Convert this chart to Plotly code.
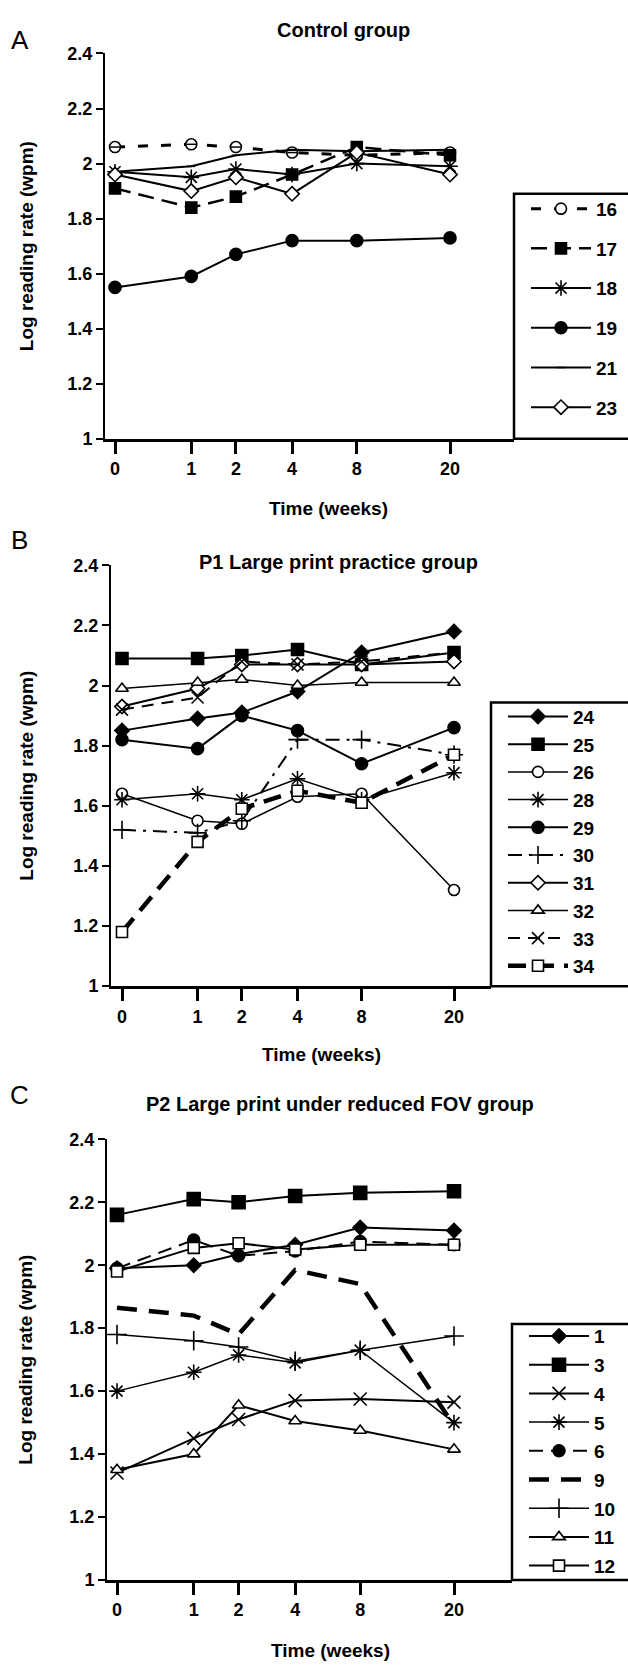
import plotly.graph_objects as go
import math

W, H = 628, 1671
FONT = "Liberation Sans, Arial, sans-serif"

weeks = [0, 1, 2, 4, 8, 20]
week_labels = ["0", "1", "2", "4", "8", "20"]
y_ticks = [1, 1.2, 1.4, 1.6, 1.8, 2, 2.2, 2.4]
y_tick_labels = ["1", "1.2", "1.4", "1.6", "1.8", "2", "2.2", "2.4"]

# Panel A: Control group
a16 = [2.06, 2.07, 2.06, 2.04, 2.03, 2.04]
a17 = [1.91, 1.84, 1.88, 1.96, 2.06, 2.03]
a18 = [1.97, 1.95, 1.98, 1.96, 2.00, 1.99]
a19 = [1.55, 1.59, 1.67, 1.72, 1.72, 1.73]
a21 = [1.97, 1.99, 2.03, 2.05, 2.045, 2.05]
a23 = [1.96, 1.90, 1.95, 1.89, 2.04, 1.96]

# Panel B: P1 Large print practice group
b24 = [1.85, 1.89, 1.91, 1.98, 2.11, 2.18]
b25 = [2.09, 2.09, 2.10, 2.12, 2.07, 2.11]
b26 = [1.64, 1.55, 1.54, 1.63, 1.64, 1.32]
b28 = [1.62, 1.64, 1.62, 1.69, 1.62, 1.71]
b29 = [1.82, 1.79, 1.90, 1.85, 1.74, 1.86]
b30 = [1.52, 1.51, 1.55, 1.82, 1.82, 1.77]
b31 = [1.93, 1.99, 2.07, 2.07, 2.07, 2.08]
b32 = [1.99, 2.01, 2.02, 2.00, 2.01, 2.01]
b33 = [1.92, 1.96, 2.08, 2.07, 2.08, 2.11]
b34 = [1.18, 1.48, 1.59, 1.65, 1.61, 1.77]

# Panel C: P2 Large print under reduced FOV group
c1 = [1.99, 2.00, 2.035, 2.065, 2.12, 2.11]
c3 = [2.16, 2.21, 2.20, 2.22, 2.23, 2.235]
c4 = [1.34, 1.45, 1.51, 1.57, 1.575, 1.565]
c5 = [1.60, 1.66, 1.715, 1.69, 1.73, 1.50]
c6 = [1.99, 2.08, 2.03, 2.045, 2.075, 2.065]
c9 = [1.865, 1.84, 1.78, 1.985, 1.94, 1.49]
c10 = [1.78, 1.76, 1.74, 1.695, 1.73, 1.775]
c11 = [1.35, 1.40, 1.555, 1.505, 1.475, 1.415]
c12 = [1.98, 2.055, 2.07, 2.05, 2.065, 2.065]

xvals = [w + 1 for w in weeks]  # plotted on a log(week+1) axis

fig = go.Figure()

def sty(symbol, fill="black", dash="solid", width=2, size=10):
    return dict(symbol=symbol, fill=fill, dash=dash, width=width, size=size)

series = [
    (1, "16", a16, sty("circle", "white", "10px,13px", 3, 11)),
    (1, "17", a17, sty("square", "black", "16px,8px", 2.5, 11)),
    (1, "18", a18, sty("asterisk-open", "black", "solid", 2, 13)),
    (1, "19", a19, sty("circle", "black", "solid", 2, 12)),
    (1, "21", a21, sty("line-ew-open", "black", "solid", 2, 6)),
    (1, "23", a23, sty("diamond", "white", "solid", 2, 11)),
    (2, "24", b24, sty("diamond", "black", "solid", 2, 11)),
    (2, "25", b25, sty("square", "black", "solid", 2, 12)),
    (2, "26", b26, sty("circle", "white", "solid", 1.5, 11)),
    (2, "28", b28, sty("asterisk-open", "black", "solid", 1.5, 13)),
    (2, "29", b29, sty("circle", "black", "solid", 2, 12)),
    (2, "30", b30, sty("cross-thin-open", "black", "14px,7px,3px,7px", 2, 13)),
    (2, "31", b31, sty("diamond", "white", "solid", 2, 11)),
    (2, "32", b32, sty("triangle-up", "white", "solid", 1.5, 11)),
    (2, "33", b33, sty("x-thin-open", "black", "12px,8px", 2, 12)),
    (2, "34", b34, sty("square", "white", "18px,10px", 4.5, 11)),
    (3, "1", c1, sty("diamond", "black", "solid", 2, 11)),
    (3, "3", c3, sty("square", "black", "solid", 2, 13)),
    (3, "4", c4, sty("x-thin-open", "black", "solid", 2, 13)),
    (3, "5", c5, sty("asterisk-open", "black", "solid", 1.5, 13)),
    (3, "6", c6, sty("circle", "black", "14px,8px", 2, 12)),
    (3, "9", c9, sty("none", "black", "20px,12px", 4.5, 1)),
    (3, "10", c10, sty("cross-thin-open", "black", "solid", 1.5, 14)),
    (3, "11", c11, sty("triangle-up", "white", "solid", 2, 11)),
    (3, "12", c12, sty("square", "white", "solid", 2, 11)),
]

for panel, name, vals, s in series:
    sfx = "" if panel == 1 else str(panel)
    mode = "lines" if s["symbol"] == "none" else "lines+markers"
    marker = dict(symbol=s["symbol"] if s["symbol"] != "none" else "circle",
                  size=s["size"], color=s["fill"],
                  line=dict(color="black", width=1.6))
    fig.add_trace(go.Scatter(
        x=xvals, y=vals, name=name, mode=mode,
        line=dict(color="black", width=s["width"], dash=s["dash"]),
        marker=marker, xaxis="x" + sfx, yaxis="y" + sfx,
        legend="legend" + sfx, legendgroup="g" + str(panel) + name,
        cliponaxis=False,
    ))
    if name == "16":
        fig.add_trace(go.Scatter(
            x=xvals, y=vals, mode="markers", showlegend=False,
            marker=dict(symbol="line-ew-open", size=7, color="black",
                        line=dict(color="black", width=1.5)),
            xaxis="x" + sfx, yaxis="y" + sfx, cliponaxis=False, hoverinfo="skip"))

# panel geometry in pixels: axis left/right, week-0 and week-20 pixel, top/bottom, legend box
geo = {
    1: dict(left=105, right=514, x0=115, x20=450, top=44, bottom=434, lg_top=186, lg_y=182, lg_gap=12),
    2: dict(left=111, right=491, x0=122, x20=454, top=562, bottom=988, lg_top=701, lg_y=696, lg_gap=0),
    3: dict(left=107, right=512, x0=117, x20=454, top=1143, bottom=1589, lg_top=1330, lg_y=1323, lg_gap=1),
}
layout = {}
shapes = []
for p, g in geo.items():
    sfx = "" if p == 1 else str(p)
    ppd = (g["x20"] - g["x0"]) / math.log10(21)
    xr = [(g["left"] - g["x0"]) / ppd, (g["right"] - g["x0"]) / ppd]
    layout["xaxis" + sfx] = dict(
        type="log", range=xr, domain=[g["left"] / W, g["right"] / W],
        anchor="y" + sfx, tickvals=xvals, ticktext=week_labels,
        showline=True, linecolor="black", linewidth=2.5, ticks="outside",
        ticklen=12, tickwidth=2.5, tickcolor="black", showgrid=False, zeroline=False,
        tickfont=dict(family=FONT, size=18, color="black", weight="bold"),
    )
    layout["yaxis" + sfx] = dict(
        range=[1, 2.4], domain=[1 - g["bottom"] / H, 1 - g["top"] / H],
        anchor="x" + sfx, tickvals=y_ticks, ticktext=y_tick_labels,
        showline=True, linecolor="black", linewidth=2, ticks="outside",
        ticklen=7, tickwidth=2, tickcolor="black", showgrid=False, zeroline=False,
        tickfont=dict(family=FONT, size=18, color="black", weight="bold"),
    )
    layout["legend" + sfx] = dict(
        x=(g["right"] + 12) / W, xanchor="left", y=1 - g["lg_y"] / H, yanchor="top",
        bgcolor="rgba(0,0,0,0)", borderwidth=0, itemwidth=60, tracegroupgap=g["lg_gap"],
        font=dict(family=FONT, size=19, color="black", weight="bold"),
        itemclick=False, itemdoubleclick=False,
    )
    shapes.append(dict(type="rect", xref="paper", yref="paper",
                       x0=g["right"] / W, x1=1.05, y0=1 - g["bottom"] / H, y1=1 - g["lg_top"] / H,
                       line=dict(color="black", width=2.5), fillcolor="rgba(0,0,0,0)"))

def ann(text, x, y, size, bold=True, angle=0):
    return dict(text=text, x=x / W, y=1 - y / H, xref="paper", yref="paper",
                showarrow=False, xanchor="center", yanchor="middle", textangle=angle,
                font=dict(family=FONT, size=size, color="black", weight="bold" if bold else "normal"))

annotations = [
    ann("A", 20, 30, 26, bold=False),
    ann("B", 19, 536, 26, bold=False),
    ann("C", 19, 1098, 26, bold=False),
    ann("Control group", 343, 20, 20),
    ann("P1 Large print practice group", 338, 559, 20),
    ann("P2 Large print under reduced FOV group", 340, 1107, 20),
    ann("Time (weeks)", 328, 505, 19),
    ann("Time (weeks)", 321, 1057, 19),
    ann("Time (weeks)", 330, 1660, 19),
    ann("Log reading rate (wpm)", 26, (44 + 434) / 2, 19, angle=-90),
    ann("Log reading rate (wpm)", 27, (562 + 988) / 2, 19, angle=-90),
    ann("Log reading rate (wpm)", 26, (1143 + 1589) / 2, 19, angle=-90),
]

fig.update_layout(
    width=W, height=H, margin=dict(l=0, r=0, t=0, b=0),
    paper_bgcolor="white", plot_bgcolor="white",
    shapes=shapes, annotations=annotations, **layout,
)
fig.write_html("out.html")
